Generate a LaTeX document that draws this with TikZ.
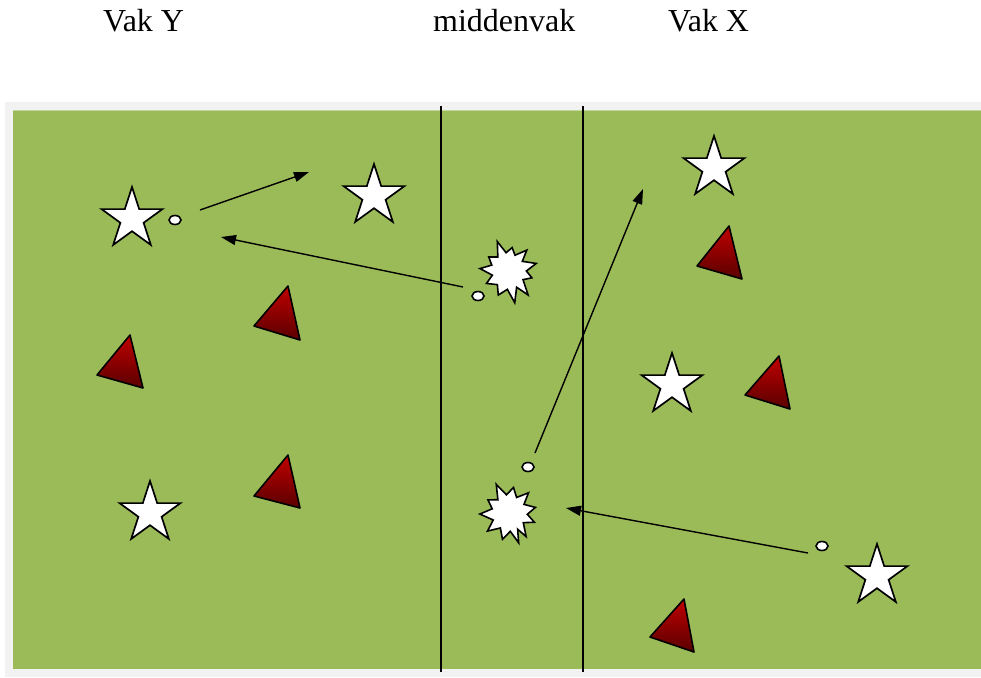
\documentclass[tikz,border=0pt]{standalone}
\usepackage{fontspec}
\setmainfont{Liberation Serif}
\usetikzlibrary{shapes.geometric,arrows.meta}
\definecolor{fieldgreen}{HTML}{9BBB59}
\definecolor{framegray}{HTML}{F2F2F2}
\definecolor{edgegreen}{HTML}{C3D69B}
\definecolor{trired}{HTML}{C00000}
\definecolor{tridark}{HTML}{5A0000}
\tikzset{
  label text/.style={font=\fontsize{32}{38}\selectfont, anchor=base west, inner sep=0pt},
  player/.style={star, star points=5, star point ratio=2.618, minimum size=64pt, inner sep=0pt, draw=black, fill=white, line width=1.7pt},
  ball/.style={ellipse, minimum width=12pt, minimum height=9pt, inner sep=0pt, draw=black, fill=white, line width=1.6pt},
  cone/.style={draw=black, line width=1.6pt, line join=round, top color=trired, bottom color=tridark},
  field line/.style={draw=black, line width=1.8pt},
  pass/.style={draw=black, line width=1.4pt, -{Triangle[length=15pt,width=10pt]}},
  burst/.style={draw=black, fill=white, line width=1.6pt, line join=miter}
}
\begin{document}
\begin{tikzpicture}[x=1pt,y=-1pt]
\useasboundingbox (0,0) rectangle (981,677);
% frame and field
\fill[framegray] (5,102) rectangle (981,677);
\fill[fieldgreen] (13,110) rectangle (981,669);
\draw[edgegreen, line width=1pt] (13,110.5) -- (981,110.5);
\draw[field line] (441,106) -- (441,672);
\draw[field line] (583,106) -- (583,672);
% labels
\node[label text] (ly) at (103,32) {Vak Y};
\node[label text] (lm) at (433,32) {middenvak};
\node[label text] (lx) at (668,32) {Vak X};
% cones
\path[cone] (288,286) -- (254,326) -- (300,340) -- cycle;
\path[cone] (130,335) -- (97,375) -- (143,388) -- cycle;
\path[cone] (288,455) -- (254,496) -- (300,508) -- cycle;
\path[cone] (729,226) -- (697,266) -- (742,279) -- cycle;
\path[cone] (779,356) -- (745,395) -- (790,409) -- cycle;
\path[cone] (684,599) -- (650,637) -- (694,652) -- cycle;
% players
\node[player] (s1) at (132,219) {};
\node[player] (s2) at (374,196) {};
\node[player] (s3) at (714,168) {};
\node[player] (s4) at (672,385) {};
\node[player] (s5) at (150,513) {};
\node[player] (s6) at (877,576) {};
% balls
\node[ball] (b1) at (175,220) {};
\node[ball] (b2) at (478,296) {};
\node[ball] (b3) at (528,467) {};
\node[ball] (b4) at (822,546) {};
% bursts
\path[burst, shift={(508,271)}, scale=1.08]
  (78:30) -- (92:17) -- (112:24) -- (128:16) -- (150:23) -- (165:15) -- (185:26) -- (200:16)
  -- (216:22) -- (234:16) -- (250:29) -- (264:17) -- (280:22) -- (294:16) -- (312:26) -- (326:16)
  -- (345:27) -- (0:17) -- (16:23) -- (30:16) -- (50:29) -- (62:17) -- cycle;
\path[burst, shift={(509,513)}, scale=1.08]
  (72:29) -- (86:17) -- (104:25) -- (120:16) -- (140:26) -- (156:16) -- (178:27) -- (194:16)
  -- (212:23) -- (230:16) -- (246:29) -- (262:17) -- (280:24) -- (296:16) -- (314:26) -- (330:16)
  -- (348:25) -- (4:17) -- (20:25) -- (34:16) -- (54:27) -- (62:17) -- cycle;
% passes
\coordinate (p1a) at (200,210); \coordinate (p1b) at (309,172);
\coordinate (p2a) at (463,287); \coordinate (p2b) at (221,237);
\coordinate (p3a) at (535,453); \coordinate (p3b) at (643,189);
\coordinate (p4a) at (808,553); \coordinate (p4b) at (566,508);
\draw[pass] (p1a) -- (p1b);
\draw[pass] (p2a) -- (p2b);
\draw[pass] (p3a) -- (p3b);
\draw[pass] (p4a) -- (p4b);
\end{tikzpicture}
\end{document}
